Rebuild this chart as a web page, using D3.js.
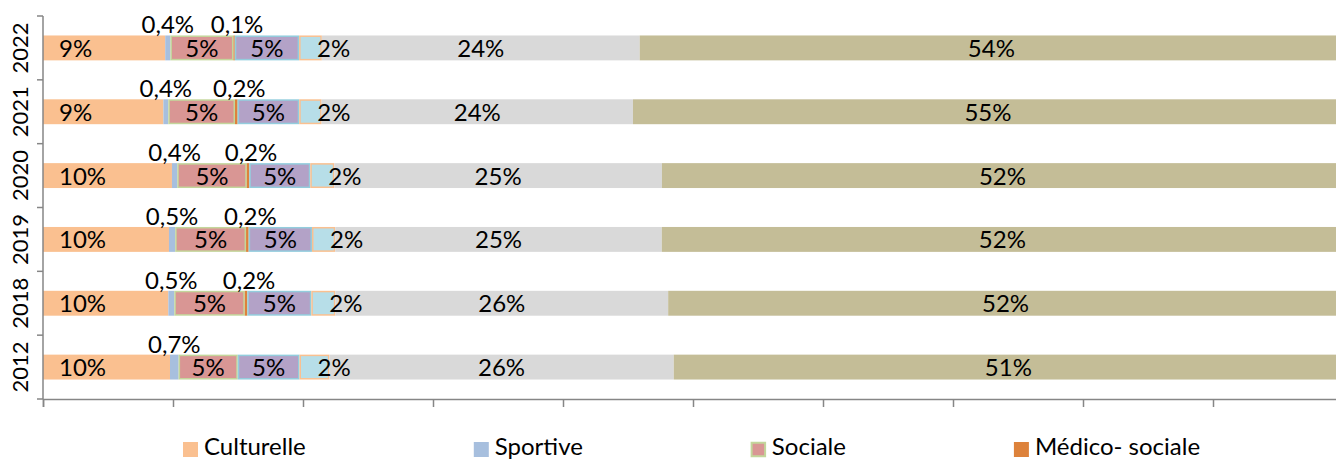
<!DOCTYPE html>
<html>
<head>
<meta charset="utf-8">
<script src="https://cdn.jsdelivr.net/npm/d3@7"></script>
<style>
  body { margin: 0; background: #ffffff; overflow: hidden; }
  svg { display: block; font-family: Lato, "Open Sans", sans-serif; }
</style>
</head>
<body>
<div class="chart"></div>
<script>
// Data (percent of each year)
var years = ["2022", "2021", "2020", "2019", "2018", "2012"];
var seriesNames = ["Culturelle", "Sportive", "Sociale", "Médico- sociale", "Série 5", "Série 6", "Série 7", "Série 8"];
var culturelle = [9.4, 9.26, 9.92, 9.69, 9.64, 9.77];
var sportive   = [0.4, 0.38, 0.41, 0.48, 0.46, 0.66];
var sociale    = [4.85, 5.13, 5.34, 5.45, 5.42, 4.55];
var medico     = [0.1, 0.2, 0.2, 0.2, 0.2, 0];
var serie5     = [4.95, 4.74, 4.69, 4.87, 4.92, 4.75];
var serie6     = [1.75, 1.72, 1.85, 1.79, 1.85, 2.3];
var serie7     = [24.45, 23.95, 25.2, 25.12, 25.6, 26.49];
var serie8     = [54.1, 54.62, 52.39, 52.4, 51.91, 51.48];
var xTicks = [0, 10, 20, 30, 40, 50, 60, 70, 80, 90, 100];

// Styles
var fills   = ["#FAC090", "#A7BFDE", "#D99694", "#DD823B", "#B3A2C7", "#B7DEE8", "#D9D9D9", "#C4BD97"];
var strokes = [null, null, "#C3D69B", null, "#93CDDD", "#FAC090", null, null];
var legendCount = 4;

var width = 1336;
var height = 461;
var axisColor = "#868686";
var labelSize = 24;

var seriesValues = [culturelle, sportive, sociale, medico, serie5, serie6, serie7, serie8];

var table = years.map(function(y, i) {
  var row = { year: y };
  seriesNames.forEach(function(s, j) { row[s] = seriesValues[j][i]; });
  return row;
});

var stack = d3.stack().keys(seriesNames);
var layers = stack(table);

var x = d3.scaleLinear().domain([0, 100]).range([43, 1343]);
var y = d3.scaleBand().domain(years).range([16, 399])
  .paddingInner(0.61).paddingOuter(0.305);

var svg = d3.select(".chart").append("svg")
  .attr("width", width)
  .attr("height", height);

// bars
var groups = svg.selectAll("g.layer")
  .data(layers)
  .enter().append("g")
  .attr("class", "layer")
  .attr("fill", function(d, i) { return fills[i]; });

groups.each(function(layer, i) {
  var g = d3.select(this);
  g.selectAll("rect")
    .data(layer.filter(function(d) { return d[1] - d[0] > 0; }))
    .enter().append("rect")
    .attr("x", function(d) { return x(d[0]); })
    .attr("y", function(d) { return y(d.data.year); })
    .attr("width", function(d) { return x(d[1]) - x(d[0]); })
    .attr("height", y.bandwidth());
  if (strokes[i]) {
    g.selectAll("rect")
      .attr("x", function(d) { return x(d[0]) + 0.75; })
      .attr("y", function(d) { return y(d.data.year) + 0.75; })
      .attr("width", function(d) { return x(d[1]) - x(d[0]) - 1.5; })
      .attr("height", y.bandwidth() - 1.5)
      .attr("stroke", strokes[i])
      .attr("stroke-width", 1.5);
  }
});

// labels
function fmt(v) {
  if (v < 1) return d3.format(".1f")(v).replace(".", ",") + "%";
  return Math.round(v) + "%";
}

layers.forEach(function(layer, i) {
  layer.forEach(function(d) {
    var v = d[1] - d[0];
    if (v <= 0) return;
    var top = y(d.data.year);
    var mid = top + y.bandwidth() / 2;
    var t = svg.append("text")
      .attr("font-size", labelSize)
      .attr("fill", "#000")
      .text(fmt(v));
    if (i === 0) {
      t.attr("x", x(d[0]) + 16).attr("y", mid + 9).attr("text-anchor", "start");
    } else if (i === 1 || i === 3) {
      t.attr("x", (x(d[0]) + x(d[1])) / 2 + (i === 3 ? 3 : 0))
        .attr("y", top - 2).attr("text-anchor", "middle");
    } else if (i === 5) {
      t.attr("x", x(d[0]) + 18).attr("y", mid + 9).attr("text-anchor", "start");
    } else {
      t.attr("x", (x(d[0]) + x(d[1])) / 2).attr("y", mid + 9).attr("text-anchor", "middle");
    }
  });
});

// x axis
var xAxis = svg.append("g")
  .attr("transform", "translate(0," + y.range()[1] + ")")
  .call(d3.axisBottom(x).tickValues(xTicks).tickSize(8).tickFormat(""));
xAxis.selectAll("path, line").attr("stroke", axisColor).attr("stroke-width", 1.5);

// y axis (ticks between categories)
var yAxis = svg.append("g");
yAxis.append("line")
  .attr("x1", x(0)).attr("x2", x(0))
  .attr("y1", y.range()[0]).attr("y2", y.range()[1])
  .attr("stroke", axisColor).attr("stroke-width", 1.5);
d3.range(years.length + 1).forEach(function(i) {
  var yy = y.range()[0] + i * y.step();
  yAxis.append("line")
    .attr("x1", x(0) - 6).attr("x2", x(0))
    .attr("y1", yy).attr("y2", yy)
    .attr("stroke", axisColor).attr("stroke-width", 1.5);
});
yAxis.selectAll("text.year")
  .data(years)
  .enter().append("text")
  .attr("class", "year")
  .attr("font-size", 22)
  .attr("text-anchor", "middle")
  .attr("transform", function(d) {
    return "translate(28," + (y(d) + y.bandwidth() / 2) + ") rotate(-90)";
  })
  .text(function(d) { return d; });

// legend
var legend = svg.append("g");
var lx = 183;
for (var i = 0; i < legendCount; i++) {
  legend.append("rect")
    .attr("x", lx + (strokes[i] ? 0.75 : 0))
    .attr("y", 442 + (strokes[i] ? 0.75 : 0))
    .attr("width", strokes[i] ? 13.5 : 15)
    .attr("height", strokes[i] ? 13.5 : 15)
    .attr("fill", fills[i])
    .attr("stroke", strokes[i] ? strokes[i] : "none")
    .attr("stroke-width", 2);
  var lt = legend.append("text")
    .attr("x", lx + 21)
    .attr("y", 455)
    .attr("font-size", labelSize)
    .attr("fill", "#000")
    .text(seriesNames[i]);
  lx = lx + 21 + lt.node().getComputedTextLength() + 168;
}
</script>
</body>
</html>
